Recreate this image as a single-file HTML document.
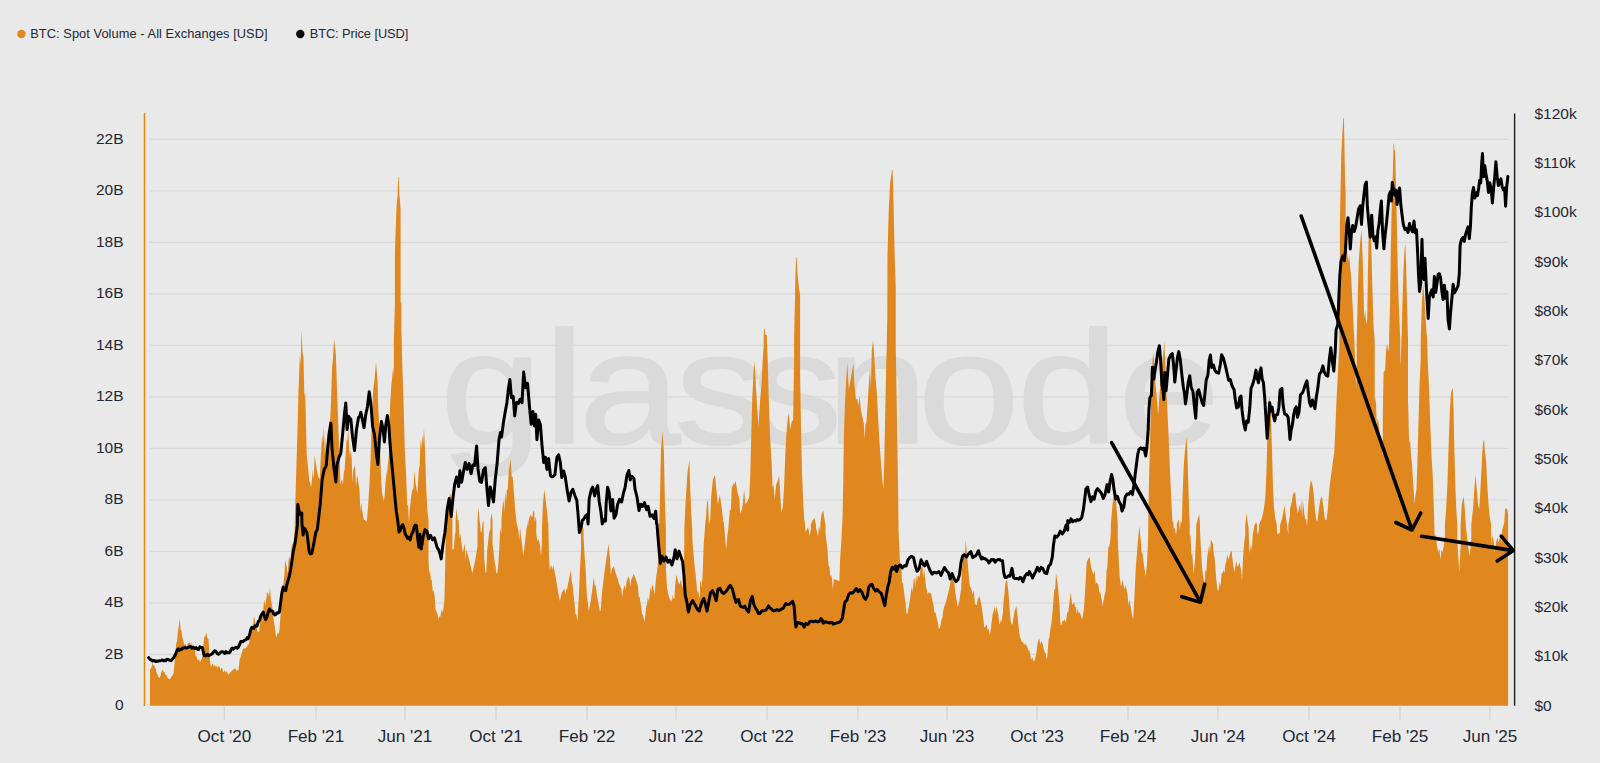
<!DOCTYPE html>
<html><head><meta charset="utf-8"><title>BTC Spot Volume</title>
<style>html,body{margin:0;padding:0;background:#e9e9e9}body{width:1600px;height:763px;position:relative;overflow:hidden}</style></head>
<body>
<svg width="1600" height="763" viewBox="0 0 1600 763" style="position:absolute;left:0;top:0;font-family:'Liberation Sans',sans-serif">
<text transform="scale(1.14,1)" x="386.4 477.2 507.9 592.1 658.8 725.0 805.3 892.1 981.1" y="443.5" font-size="160" fill="#dadada" stroke="#dadada" stroke-width="2">glassnode</text>
<line x1="150" x2="1508" y1="654.3" y2="654.3" stroke="#d9d9d9" stroke-width="1.2"/>
<line x1="150" x2="1508" y1="602.8" y2="602.8" stroke="#d9d9d9" stroke-width="1.2"/>
<line x1="150" x2="1508" y1="551.3" y2="551.3" stroke="#d9d9d9" stroke-width="1.2"/>
<line x1="150" x2="1508" y1="499.8" y2="499.8" stroke="#d9d9d9" stroke-width="1.2"/>
<line x1="150" x2="1508" y1="448.3" y2="448.3" stroke="#d9d9d9" stroke-width="1.2"/>
<line x1="150" x2="1508" y1="396.8" y2="396.8" stroke="#d9d9d9" stroke-width="1.2"/>
<line x1="150" x2="1508" y1="345.3" y2="345.3" stroke="#d9d9d9" stroke-width="1.2"/>
<line x1="150" x2="1508" y1="293.8" y2="293.8" stroke="#d9d9d9" stroke-width="1.2"/>
<line x1="150" x2="1508" y1="242.3" y2="242.3" stroke="#d9d9d9" stroke-width="1.2"/>
<line x1="150" x2="1508" y1="190.8" y2="190.8" stroke="#d9d9d9" stroke-width="1.2"/>
<line x1="150" x2="1508" y1="139.3" y2="139.3" stroke="#d9d9d9" stroke-width="1.2"/>
<path d="M150 705.8L150 669.4L150.8 668.7L151.6 666.7L152.5 663.2L153.3 665.3L154.1 665.7L154.9 666.9L155.9 669.5L156.8 673.8L157.7 674.8L158.7 677.4L159.5 678L160.4 675.9L161.2 672.6L162.1 671L162.9 669.4L163.7 672L164.5 671.9L165.3 675.1L166.1 674.4L167.1 676.8L168 678.5L168.9 678.7L169.9 679.4L170.8 677.8L171.7 676.2L172.7 675.2L173.6 673.1L174.4 664L175.3 656.1L176.1 644.5L177 640.7L178 631.7L178.9 624.9L179.8 618.4L180.7 629.9L181.5 630.8L182.3 637L183.2 639.8L184 644.2L184.8 644.5L185.8 644.2L186.7 648.7L187.6 643.6L188.6 643.3L189.4 642.9L190.2 642.6L191 647.9L191.8 642L192.8 649.8L193.8 647L194.8 649.5L195.6 656.6L196.4 656.1L197.3 659.4L198.1 660.5L198.9 658.6L199.8 662L200.6 661.3L201.4 659.6L202.3 657L203.2 647L204.2 637L205.2 636.5L206.2 632.5L207.4 638L208.5 639.5L209.3 652.2L210.2 663.2L211.1 667L212 663.7L212.9 663.9L213.8 667.1L214.7 664.4L215.5 666.8L216.4 665.3L217.2 668.8L218 666.1L218.9 666.5L219.7 666.9L220.5 670.8L221.3 667.7L222.2 668.2L223 671.4L223.8 672.5L224.7 669.8L225.5 672.8L226.3 671.5L227.2 671.5L228 674.5L228.8 674.5L229.6 673.1L230.5 672.3L231.3 671.5L232.1 670.6L233 669.8L233.8 669.5L234.6 668.2L235.6 668.8L236.5 671.1L237.4 670L238.4 670.6L239.6 659.4L240.5 657.6L241.5 653.8L242.4 651.1L243.3 648.2L244.3 648.5L245.2 648.8L246.1 647.3L247.1 647L248 643.9L248.9 644.4L249.9 638.5L250.8 634.5L251.6 629.9L252.4 626.3L253.2 625.4L254 615.9L254.9 620.2L255.8 624.6L256.6 627.1L257.4 631.4L258.3 632.1L259.2 631.6L260.1 622.1L261.1 622.3L262 612.1L262.8 616.2L263.7 603.8L264.5 599.7L265.3 606L266.2 600L267 592.2L268 592.9L269 596.8L270 586.7L271 601.2L272 604.7L272.9 612.1L273.8 621.1L274.8 627.1L275.7 634.5L276.6 637.8L277.6 632.7L278.5 633.8L279.4 630.8L280.4 616.9L281.4 602.2L282.4 593L283.4 583.9L284.4 574.8L285.2 559.8L286 563.6L286.9 567.3L287.7 574.4L288.6 559.8L289.4 556.1L290.2 562.6L291.1 551.8L291.9 544.9L292.7 544.2L293.6 541.7L294.4 532.5L295.2 528.3L296 524.2L296.9 520L297.6 520L298.4 520L299.1 529.3L299.9 533.2L300.7 524.4L301.4 520L302.2 520L302.9 534.7L303.7 524.4L304.5 532.4L305.2 520L306 520L306.7 534.7L307.5 524L308.2 520L309 520L309.8 520L310.5 520L311.3 520L312 534L312.8 520L313.6 520L314.3 532.1L315.1 520L315.8 523.5L316.6 520L317.4 535.2L318.1 520.4L318.9 535.5L319.6 522.4L320.4 520.7L321.1 520L321.9 520L322.7 520L323.4 520L324.2 529.9L324.9 533.7L325.7 520L326.5 520L327.2 534.5L328 520L328.7 520L329.5 523.4L330.2 520.6L331 520L331.8 520L332.5 520L333.3 520L334 520L334.8 521.7L335.6 532.7L336.3 525.3L337.1 520.3L337.8 524.7L338.6 520L339.3 525.4L340.1 520L340.9 534.2L341.6 520L342.4 526.9L343.1 532.9L343.9 531.8L344.7 523.6L345.4 520L346.2 533.7L346.9 520L347.7 532.7L348.4 520L349.2 528.2L350 533.3L350.7 528.3L351.5 533.9L352.2 535.8L353 523.6L353.8 520L354.5 521.8L355.3 520L356 533.2L356.8 520L357.5 520L358.3 520L359.1 526.7L359.8 534.9L360.6 534.9L361.3 523.4L362.1 535.1L362.9 520L364.1 523L365.3 520L366.1 526.3L366.9 520L367.6 527.7L368.4 532.6L369.1 520L369.9 520L370.6 525.5L371.4 534.1L372.1 520L372.9 520L373.6 527.3L374.4 520L375.1 520L375.9 527.7L376.6 520L377.4 523.2L378.2 531.8L378.9 520L379.7 522.6L380.4 525.5L381.2 522.7L381.9 523.2L382.7 520L383.4 520L384.2 536.1L384.9 526.4L385.7 520L386.4 520L387.2 520L387.9 523.3L388.7 520L389.4 523.5L390.2 520.6L391 533.2L391.7 520L392.5 530.6L393.2 522.4L394 520L394.7 532.4L395.5 520L396.2 529.6L397 520L397.7 523.8L398.5 520L399.2 520L400 520L400.7 520L401.5 520L402.3 520L403 520L403.8 525.2L404.5 520L405.3 527L406 520L406.8 520L407.5 520L408.3 527.1L409 530.4L409.8 531.3L410.5 520L411.3 530.9L412 520L412.8 528.2L413.6 520L414.3 529.1L415.1 533.1L415.8 520L416.6 521.7L417.3 520L418.1 532L418.8 530.7L419.6 520L420.3 526.9L421.1 520L421.8 531.4L422.6 532.8L423.3 536.5L424.1 520.9L424.8 526.7L425.6 527L426.4 520L426.4 705.8ZM294.8 705.8L294.8 520L296 479.4L297.3 437.1L298.5 392.3L299.8 354.9L300.6 365.3L301.5 330L302.5 352.3L303.5 357.4L304.4 396.9L305.2 392.3L306.7 454.5L307.6 463.2L308.5 471.9L309.3 481.4L310.1 481.9L311 486.9L311.8 482.5L312.7 469.4L313.7 479.6L314.7 455.7L315.7 462.6L316.7 469.4L317.6 473.2L318.4 476.9L319.7 479.4L320.9 454.5L322.2 434.6L323 444.2L323.9 425.9L324.9 455.3L325.9 437.1L326.7 450.2L327.6 432.1L328.4 429.6L329.2 421.3L330.1 420.8L330.9 404.7L332.1 367.4L333.1 357L334.1 338.7L335 346.8L335.9 354.9L337.1 392.3L338.4 429.6L339.6 459.5L340.4 484.5L341.3 480.7L342.1 479.4L342.9 484.9L343.8 472.8L344.6 469.4L345.6 454.5L346.6 439.6L347.4 440.6L348.3 429.6L349.1 447.9L350 458L350.8 449.5L351.6 456.2L352.5 483.1L353.3 469.4L354.2 467.6L355 465.7L356 487.6L357 474.4L357.9 479.4L358.7 484.4L359.5 489.4L360.4 511.7L361.2 502.6L362 509.3L362.9 514.8L363.8 520L364.6 520L365.4 520L366.2 521.7L367 520L368.2 504.3L369.5 484.4L370.7 454.5L372 417.2L373.2 389.8L374.5 379.8L376 361.9L377.5 379.8L378.4 411L379.4 429.6L380.7 469.4L381.9 491.9L382.9 496.8L383.9 501.8L384.8 493.6L385.7 479.4L386.5 474.4L387.4 469.4L388.9 454.5L390.1 404.7L391.4 384.8L392.3 376.1L393.1 367.4L394 377.3L394.9 330L395.7 330L396.5 330L397.3 330L398.1 330L398.9 330L399.7 330L400.5 353.4L401.4 330L402.4 367.4L403.6 404.7L404.8 449.5L406.3 479.4L407.2 506.1L408.1 504.3L408.9 522.6L409.8 509.3L410.8 500.6L411.8 491.9L412.6 489.5L413.5 487.9L414.3 470.7L415.8 484.4L417.3 494.3L418.8 469.4L419.7 465.1L420.5 439.6L421.4 449L422.3 434.6L423.1 444.8L424 428.4L425 449.5L426.3 489.4L427.3 509.3L428.5 520L428.5 705.8ZM447.2 705.8L447.2 520L447.9 504.3L450.4 493.1L451.7 504.3L452.4 520L452.4 705.8ZM455.6 705.8L455.6 520L456.6 508L457.6 520L457.6 705.8ZM477.5 705.8L477.5 520L478.5 506.8L479.5 520L479.5 705.8ZM490.5 705.8L490.5 520L491.5 513L492.5 520L492.5 705.8ZM501.5 705.8L501.5 520L502.7 504.3L503.5 500.2L504.4 511.9L505.2 491.9L506 501.9L506.8 490.2L507.7 489.4L508.9 469.4L509.8 464.1L510.7 458.7L511.7 476.8L512.7 476.9L513.9 491.9L515.1 509.3L516.4 520L516.4 705.8ZM528.8 705.8L528.8 520L530.1 515.5L531 514.3L532 524.1L532.9 511.8L533.8 510.5L534.7 524.2L535.5 516.8L536.3 520L536.3 705.8ZM393.9 705.8L393.9 340L394.9 302.4L394.9 252.1L396.4 209.8L396.9 202.3L397.6 194.8L398.1 176.9L398.6 176.9L399.4 194.8L400.1 202.3L400.6 209.8L400.6 302.4L401.4 302.4L401.4 340L401.4 705.8ZM426.2 705.8L426.2 520L427.5 544.9L428.3 553.2L429.1 574.3L430 569.8L430.9 580.5L431.8 579.8L432.8 592.6L433.7 589.7L434.6 595.6L435.6 609.6L436.5 611.7L437.4 613.4L438.4 619.5L439.3 616.4L440.2 617.1L441.2 612.1L442 609L442.8 613.3L443.6 607.5L444.4 599.7L445.4 557.4L446.1 520L447.1 528.5L448 520L448.9 520L449.9 520L450.9 534.9L451.9 549.9L452.9 549.5L453.9 548.7L454.9 534.9L455.7 530L456.5 525L457.4 520L458.6 520L459.4 538.3L460.3 533.3L461.1 539.9L462 546.9L462.8 552.4L463.8 548.1L464.8 543.7L465.7 559.8L466.5 549.5L467.3 552.4L468.1 555.7L469 559L469.8 562.3L470.6 566.1L471.5 569.8L472.3 573.5L473.3 569L474.3 564.4L475.3 559.8L476.1 554.9L476.9 549.9L477.8 544.9L478.8 532.5L479.8 520L480.7 531.2L481.6 532.8L482.6 523L483.5 520L484.2 557.4L485.5 573.5L486.4 571.8L487.2 549.9L488.2 541.2L489.2 532.5L490.1 530L491 527.5L491.8 548.7L492.7 544.9L493.7 553.6L494.7 562.3L495.5 566.1L496.4 573.5L497.2 573.5L498.2 565.8L499.2 549.9L500.2 527.5L501.2 534.3L502.2 520L502.9 520L503.7 529.5L504.5 522L505.2 520L506 520L506.7 520L507.5 520.2L508.3 529.9L509 520L509.8 520L510.5 526.9L511.3 530.8L512.1 522.5L512.8 520.1L513.6 520L514.3 536.2L515.1 534.5L515.9 520L516.7 523.6L517.5 526.6L518.4 530L519.2 540.4L520.1 527.5L521.1 537L522.1 544.9L523.3 556.1L524.2 549.1L525 542L525.8 534.9L526.7 530L527.5 525L528.3 520L529.1 530.5L529.9 520L530.7 535.6L531.4 536.1L532.2 520L533 520.2L533.8 520L534.5 520L535.5 527.5L536.5 534.9L537.4 541.5L538.3 538.7L539.1 541.8L540 544.9L541 556.2L542 542.4L543 537.1L544 530L544.5 520L545.4 529.6L546.4 531.3L547.3 533.3L548.2 520L549 557.4L549.9 570.1L550.7 566.1L551.6 565.7L552.4 570.1L553.2 564.8L554 569L554.9 573.1L555.7 577.3L556.5 582.3L557.4 587.2L558.2 592.2L559.1 597.2L559.9 600.9L560.9 596.6L561.9 592.2L562.8 591L563.6 589.7L564.4 588.5L565.3 595.3L566.1 589.3L566.9 589.7L567.9 584.7L568.9 579.8L569.9 574.8L570.9 569.8L571.8 582.2L572.6 584.7L573.5 593.5L574.4 602.2L575.4 614.4L576.4 614.6L577.4 622.1L578.9 594.7L579.7 576L580.6 557.4L581.9 532.5L583.1 530L584.3 549.9L585.6 569.8L586.8 594.7L587.8 602.8L588.8 610.9L589.7 606.5L590.6 602.2L591.4 596L592.3 589.7L593.8 577.3L594.7 585.8L595.5 584.7L596.4 591L597.3 597.2L598.1 601.8L599 606.3L599.8 610.9L600.8 610.5L601.8 594.7L602.8 586L603.8 577.3L604.6 571L605.5 564.8L606.4 558.6L607.3 552.4L608.5 543.7L610 559.8L610.9 575.6L611.7 569.8L612.7 567.9L613.7 566.1L614.7 569.8L615.7 573.5L616.8 576.6L618 579.8L618.8 583.2L619.6 584.7L620.4 587.2L621.3 588.5L622.1 597.6L622.9 591L623.8 587.9L624.7 584.7L625.7 589.6L626.7 581L627.7 578.5L628.7 576L629.5 579.7L630.3 587.1L631.2 579.8L632 577.7L632.8 576.6L633.6 573.5L634.6 576L635.6 578.5L636.8 582.3L637.9 586L638.7 597.3L639.5 596.8L640.4 602.2L641.2 606.3L642 614.6L642.9 614.6L643.7 618.4L644.6 622.1L646.1 607.2L647 604L647.8 597.2L648.7 600.9L649.5 596.4L650.3 587.2L651.2 592L652 586.1L652.8 584.7L653.7 589.7L654.6 594.7L656.1 577.3L656.9 572.3L657.8 564.8L659 552.4L660.3 534.9L661.5 520L662.5 520L663.4 520L664.3 530L665.3 520L666 569.8L666.9 586.8L667.8 592.2L668.6 595.5L669.4 598L670.2 600.9L671.1 598.9L671.9 602.3L672.7 594.7L673.6 599.4L674.4 598.1L675.2 584.7L676.5 574.8L677.3 578.1L678.1 581.4L679 584.7L680 582.3L681 579.8L681.8 584.5L682.7 588.5L683.9 569.8L684.7 520L685.5 523L686.4 520.9L687.2 520L688.1 520L688.9 535.8L689.7 520L690.6 530L691.4 520L692.7 544.9L693.9 557.4L694.7 567.2L695.6 574L696.4 582.3L697.2 592.5L698.1 590.6L698.9 594.7L699.7 597.2L700.5 599.7L701.4 602.2L701.4 705.8ZM526.2 705.8L526.2 530L527.5 524.3L528.3 528.8L529.1 534.7L530 515.5L530.8 516L531.6 517L532.5 516.8L533.3 519.8L534.2 510.6L534.9 530L534.9 705.8ZM541.9 705.8L541.9 530L542.9 504.3L544.4 489.4L545.9 501.9L547.4 514.3L548.1 530L548.1 705.8ZM581 705.8L581 530L582.3 525.5L583.5 530L583.5 705.8ZM658.9 705.8L658.9 530L659.9 501.9L660.9 452.1L662.4 430.9L663.9 452.1L664.9 501.9L665.9 530L665.9 705.8ZM684.3 705.8L684.3 530L685.6 501.9L686.5 488.2L687.3 474.5L688.3 467L689.3 459.5L690.3 489.4L691.3 514.3L692.3 530L692.3 705.8ZM763.7 705.8L763.7 340L764 328.8L764.7 328.8L765.5 335.5L766.7 336.3L766.7 340L766.7 705.8ZM794.1 705.8L794.1 340L795.1 291.9L795.6 269.5L796.1 257.1L796.6 257.1L797.6 274.5L799.1 289.4L800.1 294.4L800.1 340L800.1 705.8ZM886.8 705.8L886.8 340L887.3 318.1L887.5 254.6L888.7 212.3L890 184.9L891.2 174.9L892 169.9L892.5 169.9L893.2 187.4L894 224.7L894.7 257.1L895.7 285.7L895.7 340L895.7 705.8ZM700 705.8L700 582.3L700.8 580.6L701.7 587.9L702.5 577.3L703.7 544.9L704.6 532.5L705.5 520L707 520L708.5 527.5L710 520L710.7 520L711.5 520L712.2 522.4L713 520L713.8 520L714.5 520L715.3 529.9L716 520L716.8 525.4L717.6 522.1L718.3 522.8L719.1 522.4L719.9 520L720.6 532L721.4 520.6L722.1 520L722.9 535.6L723.7 520L724.9 534.9L726.1 549.9L727.4 534.9L728.4 527.5L729.4 520L730.1 520L730.9 527.5L731.6 535.5L732.4 520L733.1 520L733.9 525.7L734.6 520L735.4 530.5L736.2 523.7L736.9 531.9L737.7 520L738.4 534.6L739.2 526.9L739.9 524.5L740.7 520L741.4 522.8L742.2 525.3L742.9 520L743.7 536.4L744.4 535L745.2 520L745.9 528L746.7 524.3L747.4 526.1L748.2 520L748.9 520L749.7 520L750.4 524.8L751.2 520L751.9 532.1L752.7 536.4L753.4 533.5L754.2 522.3L755 533.9L755.7 523.1L756.5 535.3L757.2 529.6L758 523L758.7 520L759.5 520L760.2 521.3L761 530.2L761.7 524.6L762.5 530.2L763.2 520L764 520L764.7 520L765.5 521.1L766.2 520L767 532.1L767.7 533.6L768.5 534.1L769.2 520L770 520.3L770.7 520L771.5 534.6L772.2 523.1L773 520L773.8 522.7L774.5 529.9L775.3 528.7L776 528.6L776.8 531.9L777.5 520L778.3 520L779 531.9L779.8 532.6L780.5 534.6L781.3 520L782 528.6L782.8 529L783.5 536.2L784.3 523L785 524.2L785.8 520L786.5 521.6L787.3 520L788 520.3L788.8 520L789.5 520L790.3 531.7L791 534.5L791.8 520L792.5 522.1L793.3 528.4L794.1 522L794.8 522.3L795.6 520L796.3 520L797.1 529.6L797.8 520L798.6 533.8L799.3 520L800.1 527L800.8 520L801.6 526.6L802.3 520L803.1 520L803.8 524L804.6 520L805.6 532.1L806.6 530L807.4 528.7L808.3 527.5L809.6 536.2L810.6 530.6L811.6 525L812.4 522.5L813.3 520L814.1 522.5L815 525L815.8 527.5L817 531.2L818 537L819 526.2L819.9 529.3L820.8 532.5L821.6 526.2L822.5 520L823.5 527.1L824.5 520L825.7 534.9L826.6 542.4L827.5 549.9L828.5 565.6L829.5 567.3L830.3 576.3L831.1 575L832 578.5L832.9 589.9L833.8 579.1L834.8 579.4L835.7 579.8L836.6 580.1L837.6 580.4L838.5 580.7L839.4 581L840.2 557.4L841.4 539.9L842.4 520L843.2 520L843.9 530.7L844.7 531.3L845.4 529.1L846.2 520L846.9 520L847.7 528.7L848.4 535.9L849.2 525.1L849.9 520L850.7 529.9L851.4 520L852.2 524.5L852.9 528.9L853.7 522.1L854.4 524.9L855.2 524.8L855.9 521.5L856.7 534L857.4 520L858.2 520L858.9 520L859.7 531.9L860.4 529.2L861.2 520L861.9 525.2L862.7 523.7L863.4 526.4L864.2 520L864.9 525.9L865.7 520L866.4 529.3L867.2 524.8L867.9 520L868.7 532.9L869.4 521.1L870.2 520L870.9 521L871.7 527.4L872.4 520L873.2 523.8L873.9 520L874.7 520L875.4 525.6L876.2 531.3L876.9 520L877.7 520L878.4 520L879.2 532.4L879.9 520L880.7 520L881.4 533.1L882.2 520L883 520L883.7 534.6L884.5 532.8L885.2 520L886 536.1L886.7 520L887.5 533.1L888.2 520L889 520L889.7 527.6L890.5 532.1L891.2 526.5L892 520L892.7 525.4L893.5 520L894.2 520L895 527.4L895.7 525.1L896.5 529.6L897.2 520L898 520L899.2 544.9L900.2 567.4L901.2 564.8L902.1 583.6L902.9 582.3L903.8 589.7L904.7 597.2L905.5 603L906.3 612.5L907.2 614.6L908.2 609.6L909.2 604.7L910.2 597.7L911.2 589.7L912 586.4L912.8 593.2L913.6 579.8L914.5 578.1L915.3 588.1L916.1 574.8L917 581.3L917.8 575.6L918.6 576L919.5 577.2L920.4 569.8L921.4 567.3L922.4 564.8L923.2 578.6L924.1 568.6L925.1 577.9L926.1 587.2L926.9 589.9L927.8 594.7L928.6 592.2L929.4 592.6L930.2 593L931.1 593.5L931.9 597.8L932.8 602.2L933.6 605.5L934.5 612.7L935.3 612.1L936.1 615.5L937 618.8L937.8 622.1L938.8 629L939.8 628.3L940.7 624L941.5 619.6L942.4 618L943.2 611.3L944 607.2L944.9 604.7L945.7 603.2L946.5 599.7L947.3 596.4L948.2 593L949 589.7L950 584.7L951 579.8L951.9 578.5L952.7 577.3L953.6 581L954.5 584.7L955.5 593.8L956.5 599.7L957.5 606.9L958.5 604.7L959.3 601.5L960.2 594.7L961.1 589.3L962 569.8L962.9 559.8L963.9 549.9L964.8 559.3L965.7 539.9L967.2 557.4L968.1 567.3L968.9 577.3L969.9 586.8L970.9 587.2L971.8 591L972.7 594.7L973.9 589.7L974.9 603.9L975.9 604.7L976.8 605L977.6 599.7L978.5 597.8L979.4 595.9L980.4 600.3L981.4 604.7L982.4 612.1L983.4 619.6L984.2 627L985.1 627.1L986 625.8L986.9 624.6L987.8 631.1L988.8 628.3L989.8 635.8L990.8 629.6L991.7 622.1L992.6 614.6L993.6 611.3L994.6 605.9L995.4 612.7L996.3 605.9L997.3 611.1L998.3 614.6L999.2 623.7L1000 624.6L1000 705.8ZM705.5 705.8L705.5 525L707 501.8L708 500.6L709 525L709 705.8ZM710 705.8L710 525L711.2 496.9L712.1 488.1L712.9 479.4L713.9 477.2L714.9 474.9L716.4 489.4L717.9 504.3L718.9 499.3L719.9 494.4L720.9 502.1L721.9 509.3L722.8 517.1L723.7 525L723.7 705.8ZM728.6 705.8L728.6 525L729.9 509.3L730.9 510.3L731.9 484.4L732.7 487.2L733.6 483.2L734.6 483.9L735.6 480.7L736.5 486.3L737.4 491.9L738.3 495.6L739.3 499.3L740.2 513.7L741.1 511.8L742 509L742.8 504.3L744.1 489.4L745.3 504.3L746.3 503.1L747.3 501.8L748.3 499.3L749.3 496.9L750.3 474.4L751.3 434.6L752.3 397.3L753.5 372.4L754.5 361.1L755.8 384.8L757.3 409.7L758.5 427.1L759.8 404.7L760.6 394.8L761.5 384.8L762.7 359.9L764.2 337.5L765.2 335L766.7 335L767.7 359.9L768.7 397.3L770.2 439.6L771.7 464.5L772.6 487.4L773.5 484.4L774.7 499.3L776.2 484.4L777.7 480.7L779.2 475.7L780.2 494.4L781.4 513L782.9 506.8L784.2 484.4L785.4 452L786.7 429.6L787.9 417.2L788.9 413.4L790.1 429.6L791.6 422.2L793.1 419.7L794.1 359.9L795.1 335L796 336.5L796.9 335L797.8 335L798.7 365L799.6 335L800.3 384.8L801.1 434.6L802.1 474.4L803.3 504.3L804.6 525L804.6 705.8ZM810.8 705.8L810.8 525L812.5 520.5L814.5 518L816 525L816 705.8ZM820.3 705.8L820.3 525L821.5 514.3L823.3 510.5L824.5 519.3L825.5 525L825.5 705.8ZM842.4 705.8L842.4 525L843.2 484.4L843.9 434.6L844.9 404.7L846.2 379.8L847.4 362.4L848.7 389.8L850.1 382.3L851 377.3L851.9 372.4L853.4 362.9L854.4 384.8L855.9 399.7L857.4 398.5L858.4 406L859.6 396L860.9 409.7L862.4 417.2L863.8 423.4L864.7 438.7L865.5 423.4L866.3 423.4L867.6 404.7L868.8 384.8L870.1 367.4L870.9 388.3L871.8 349.9L873.1 340.5L874.3 357.4L875.5 377.3L876.8 392.3L878 414.7L879.3 439.6L880.8 459.5L882.3 479.4L883.3 489.4L884.3 459.5L885.3 409.7L886.3 359.9L887.3 335L888.1 348L888.9 335L889.7 345.3L890.5 335L891.4 361.5L892.2 340.8L893 341.2L893.8 335L894.6 353.7L895.5 335L896.2 372.4L897.2 434.6L898 484.4L898.5 525L898.5 705.8ZM1000 705.8L1000 619.6L1001 623.1L1002 618.4L1002.9 612.5L1003.7 599.7L1004.6 592.2L1005.5 582.3L1007 579.8L1007.8 587.2L1008.7 594.7L1009.6 609.3L1010.5 619.6L1011.5 624.2L1012.5 624.6L1013.4 618.6L1014.4 612.1L1015.4 609L1016.4 605.9L1017.9 619.6L1018.9 629.4L1019.9 637L1020.8 638.7L1021.6 641.9L1022.4 642L1023.2 642.4L1024.1 645.4L1024.9 643.3L1025.7 644.5L1026.6 645.7L1027.4 647L1028.2 650.5L1029.1 650.3L1029.9 652L1030.7 658.1L1031.5 659.6L1032.4 657L1033.2 660.4L1034.1 661.9L1035.1 658.8L1036.1 654.5L1037 648.2L1037.8 642L1039.3 638.3L1040.2 644.9L1041.1 640.8L1042 642.6L1042.8 644.5L1043.8 649.5L1044.8 652L1045.7 653.6L1046.5 659.3L1047.3 657L1048.6 639.5L1049.4 637.8L1050.3 629.6L1051.3 624.1L1052.3 614.6L1053.3 602.2L1054.3 589.7L1055.2 589L1056 573.5L1056.9 579.1L1057.8 584.7L1059.3 602.2L1060.5 624.6L1061.4 625.6L1062.3 620.8L1063.1 621.8L1063.9 620L1064.7 619.6L1065.6 622.4L1066.4 619.2L1067.2 612.1L1068.2 612.8L1069.2 604.7L1070.7 592.2L1072.2 604.7L1073.2 604L1074.2 602.2L1075.1 606.7L1075.9 607.2L1076.8 614.1L1077.7 608.4L1078.7 613.7L1079.7 612.1L1080.5 614.6L1081.3 617.1L1082.2 619.6L1083 614.6L1083.9 609.6L1085.2 589.7L1086.7 562.3L1087.5 560.5L1088.4 558.6L1089.6 556.9L1091.1 567.3L1092.6 572.3L1093.6 574.4L1094.6 569.8L1095.6 584L1096.6 582.3L1097.5 583.5L1098.4 584.7L1099.4 592.8L1100.3 592.2L1101.5 599.1L1102.6 605.9L1103.6 600.3L1104.6 594.7L1105.6 591.7L1106.6 569.8L1107.4 566.9L1108.3 547.4L1109.2 546.6L1110.1 542.4L1111.6 520L1112.3 520L1113.1 520L1113.9 520L1114.7 520.7L1115.5 523.3L1116.2 526.4L1117 520L1118 544.9L1119.5 574.8L1121 587.2L1122.5 579.8L1124 587.2L1124.9 589.3L1125.7 584.7L1126.6 589.7L1127.5 594.7L1128.5 605.4L1129.5 599.7L1130.5 605.9L1131.5 612.1L1132.3 615.9L1133.2 619.6L1134.5 594.7L1135.7 569.8L1137 552.4L1138.2 537.4L1139.4 526.2L1140.7 539.9L1141.6 552.4L1142.4 552.4L1143.9 564.8L1144.8 571L1145.7 577.3L1146.9 564.8L1147.9 544.9L1148.7 520L1149.4 520L1150.2 520L1150.9 520L1151.7 520.7L1152.5 520L1153.2 520L1154 524.1L1154.8 533.2L1155.5 535.3L1156.3 520L1157 531.6L1157.8 532.5L1158.6 520L1159.3 521.5L1160.1 520L1160.9 535.6L1161.6 520L1162.4 520L1163.1 520L1163.9 520L1164.7 520.9L1165.4 520L1166.2 528.6L1167 520L1167.7 532.7L1168.5 531.8L1169.2 520L1170 529.1L1170.8 520L1171.5 520L1172.3 524.2L1173.1 520L1173.9 529.6L1174.8 527.5L1176 534.9L1177.3 525L1178.8 520L1179.8 530L1180.8 520L1181.6 523.4L1182.4 522.3L1183.2 520L1184 520L1184.8 524L1185.6 527.4L1186.4 520L1187.2 525L1187.9 520L1188.7 520L1189.6 536.5L1190.5 534.9L1191.4 555.6L1192.2 552.4L1193.7 574.8L1195 559.8L1196.2 534.9L1197.5 523.7L1198.7 520L1199.7 525L1200.7 544.9L1202.2 569.8L1203.7 579.8L1204.6 583.7L1205.4 569.8L1206.3 572.1L1207.2 557.4L1208.2 551.1L1209.2 544.9L1210 553.4L1210.9 539.4L1211.9 541.5L1212.9 543.7L1213.8 554.5L1214.6 557.4L1216.1 577.3L1217 586.4L1217.9 591L1218.8 589.6L1219.6 582.3L1220.6 586L1221.6 573.5L1222.6 573L1223.6 569.8L1224.5 573.2L1225.3 564.8L1226.2 562L1227.1 554.9L1228.6 559.8L1229.5 556.3L1230.3 552.4L1231.6 551.1L1233.1 564.8L1234.6 572.3L1236.1 561.1L1236.9 564.2L1237.8 567.3L1238.7 564.8L1239.5 562.3L1241 569.8L1242 581L1243 557.4L1244.5 539.9L1246 530L1247.3 520L1248.5 527.5L1249.5 553.6L1251 544.9L1251.9 550.6L1252.7 534.9L1253.6 530L1254.5 525L1256 522.5L1256.8 528.7L1257.7 534.9L1259 530L1260.2 520L1261 528.2L1261.8 523.2L1262.6 520.1L1263.3 520L1264.1 520L1264.9 520L1265.7 520L1266.5 520L1267.3 524.1L1268.1 520.5L1268.8 520L1269.6 520L1270.4 523.1L1271.2 520L1272 520L1272.8 520L1273.5 533.1L1274.3 520L1275.1 520L1275.9 520L1276.8 530.4L1277.6 534.9L1278.5 533.7L1279.4 532.5L1280.4 534.6L1281.4 525L1282.4 522.5L1283.4 520L1284.4 533.9L1285.4 520.7L1286.4 520L1287.6 530L1288.8 538.7L1289.6 520L1289.6 705.8ZM1110.8 705.8L1110.8 525L1112.1 509.3L1113.3 496.9L1114.5 476.9L1115.8 496.9L1117 514.3L1117.8 525L1117.8 705.8ZM1148.2 705.8L1148.2 525L1148.9 484.4L1149.9 447.1L1150.9 409.7L1151.9 372.4L1153.1 351.2L1154.4 367.4L1155.6 384.8L1156.9 399.7L1158.1 414.7L1159.4 397.3L1160.6 379.8L1161.9 367.4L1163.1 354.9L1164.3 341.2L1165.3 364.9L1166.3 389.8L1167.3 409.7L1168.3 429.6L1169.3 454.5L1170.6 484.4L1171.8 509.3L1172.6 525L1172.6 705.8ZM1176.8 705.8L1176.8 525L1178.3 519.3L1179.3 525L1179.3 705.8ZM1181.8 705.8L1181.8 525L1182.5 496.9L1183.8 464.5L1185.3 447.1L1186.8 437.6L1187.7 464.5L1188.7 496.9L1189.7 525L1189.7 705.8ZM1196.2 705.8L1196.2 525L1198 518L1199.2 514.3L1200 525L1200 705.8ZM1245.3 705.8L1245.3 525L1246.5 513L1248 525L1248 705.8ZM1255.2 705.8L1255.2 525L1256 521.8L1257 525L1257 705.8ZM1259 705.8L1259 525L1259.8 523.1L1260.6 521.2L1261.5 519.3L1262.5 515.5L1263.4 511.8L1264.3 505.6L1265.2 499.3L1266.4 474.4L1267.4 434.6L1268.4 404.7L1269.4 396L1270.7 409.7L1271.9 447.1L1272.9 484.4L1273.9 506.8L1275.4 519.3L1276.9 525L1276.9 705.8ZM1280.1 705.8L1280.1 525L1281 522.1L1281.9 519.3L1283.4 511.8L1284.6 505.6L1285.9 516.8L1286.9 525L1286.9 705.8ZM1288.3 705.8L1288.3 525L1289.2 519.6L1290.1 514.3L1291 519.3L1291.8 506.8L1293.3 496.9L1294.2 499.8L1295.1 491.4L1296.3 504.3L1297.8 514.3L1298.8 509.3L1300 506.8L1300 705.8ZM1290 705.8L1290 520L1290.8 520L1291.5 531.5L1292.3 527.4L1293 520L1293.8 520.7L1294.5 523.2L1295.3 520L1296 534.1L1296.8 520L1297.5 520L1298.3 524.7L1299.1 520L1299.8 527L1300.6 527.3L1301.3 520L1302.1 520L1302.8 520L1303.6 524.9L1304.3 529.4L1305.1 523.3L1305.8 525.4L1306.6 536.2L1307.4 520L1308.1 520L1308.9 520L1309.6 520L1310.4 520L1311.1 520L1311.9 531.3L1312.6 520L1313.4 529.6L1314.1 520L1314.9 520L1316.1 530L1317.4 520L1318.2 530.8L1319.1 525.7L1319.9 520L1320.7 523.2L1321.5 520L1322.4 521.4L1323.2 520L1324 529.7L1324.9 520L1326.1 531.2L1327.4 520L1328.1 528.9L1328.9 520L1329.6 521.9L1330.4 534.9L1331.1 521.9L1331.9 520L1332.6 521.6L1333.4 524.2L1334.1 529.3L1334.9 529.6L1335.6 528.6L1336.4 520L1337.1 526.8L1337.9 527.3L1338.6 520L1339.4 520L1340.1 520L1340.9 520L1341.6 536.6L1342.4 520L1343.1 533.9L1343.9 522.9L1344.6 520L1345.4 520L1346.1 520L1346.9 533L1347.6 524L1348.4 520.3L1349.1 520L1349.9 525L1350.6 520L1351.4 534.9L1352.1 520L1352.9 520L1353.6 520L1354.4 520L1355.1 520L1355.9 532.5L1356.6 532.8L1357.4 520L1358.1 520L1358.9 526.2L1359.6 520L1360.4 520L1361.1 520L1361.9 530.1L1362.6 529.2L1363.4 520L1364.1 535.5L1364.9 520L1365.6 523.2L1366.4 534L1367.1 520L1367.9 520.4L1368.6 533.4L1369.4 529.3L1370.1 531.5L1370.9 522.4L1371.6 520L1372.4 531.5L1373.1 520L1373.9 520L1374.6 525.7L1375.4 528.4L1376.1 520L1376.9 520L1377.6 523L1378.4 520L1379.1 520L1379.9 528L1380.6 534.1L1381.4 534.6L1382.1 520L1382.9 525.5L1383.6 534.9L1384.4 520L1385.1 522.8L1385.9 527.8L1386.6 520L1387.4 525.9L1388.1 529.7L1388.9 520.3L1389.6 536.5L1390.4 522.4L1391.1 520L1391.9 524.6L1392.6 524.4L1393.4 520L1394.1 536L1394.9 520L1395.6 529.4L1396.4 520L1397.1 520L1397.9 520L1398.6 520L1399.4 520L1400.2 524.7L1400.9 520L1401.7 520L1402.4 520L1403.2 520L1403.9 532.8L1404.7 520L1405.4 530.6L1406.2 529.2L1406.9 521L1407.7 525.4L1408.4 520L1409.2 526.1L1409.9 523.9L1410.7 522.3L1411.4 534.6L1412.2 527.4L1412.9 520L1413.7 522.8L1414.4 525L1415.2 532.2L1415.9 520L1416.7 520L1417.4 535.4L1418.2 520L1418.9 523L1419.7 520L1420.4 520L1421.2 533L1421.9 534.5L1422.7 528.1L1423.4 520L1424.2 524.3L1424.9 522.8L1425.7 531.8L1426.4 526.7L1427.2 530.1L1427.9 520L1428.7 520L1429.4 532.3L1430.2 520L1430.9 520L1431.7 533.5L1432.4 520L1433.2 522.3L1433.9 520L1434.8 536.1L1435.7 534.9L1436.9 544.9L1438.2 552.4L1439.4 548.6L1440.4 559.8L1441.4 549.9L1442.4 552.4L1443.9 544.9L1444.9 534.9L1446.1 520L1446.9 520L1447.7 520L1448.5 520L1449.3 525.5L1450.1 520L1450.8 520L1451.6 531.4L1452.4 521L1453.2 520.8L1454 520L1454.8 528.3L1455.5 520L1456.3 520L1457.3 539.9L1458.3 557.4L1459.3 572.3L1460.3 552.4L1461.3 534.9L1462.3 520L1463.2 527.7L1464.1 535.5L1465 520L1466.3 530L1467.5 542.4L1468.8 551.1L1469.8 556.1L1470.8 544.9L1471.8 532.5L1473 520L1473.8 520L1474.6 520L1475.3 530.3L1476.1 520L1476.9 521.6L1477.6 522.4L1478.4 520L1479.2 533.6L1480 529L1480.7 520L1481.5 520L1482.3 520L1483 520L1483.8 532.4L1484.6 531.9L1485.3 520L1486.1 520L1486.9 532.9L1487.7 520L1488.4 524.7L1489.2 520L1490.4 527.5L1491.3 546L1492.2 534.9L1493.7 541.2L1494.7 552.4L1495.7 544.9L1497.2 537.4L1498.7 542.4L1499.5 538.8L1500.4 534.9L1501.3 542.7L1502.2 530L1503.6 525L1504.5 522.5L1505.4 520L1506.3 536.5L1507.2 532.7L1508.1 520L1508.1 705.8ZM1290 705.8L1290 509.3L1291.2 504.3L1292.1 499.9L1293 494.4L1294.5 491.4L1296 506.8L1297.5 514.3L1298.5 510.4L1299.5 504.3L1300.3 512L1301.2 499.3L1302.1 517.4L1302.9 500.6L1304.4 514.3L1305.3 519.3L1306.2 519.3L1307.1 527L1307.9 509.3L1309.4 489.4L1310.9 479.9L1312.4 484.4L1313.7 494.4L1314.9 509.3L1316.1 519.3L1317.4 521.8L1318.9 509.3L1320.4 499.3L1321.9 496.4L1323.4 506.8L1324.9 519.3L1326.4 520.5L1327.8 509.3L1329.3 489.4L1330.2 481.9L1331.1 474.4L1332 468.8L1332.8 462L1334.3 452L1335.3 429.6L1336.3 404.7L1337.3 384.8L1338.6 359.9L1339.8 335L1340.6 335L1341.3 367.8L1342.1 356.2L1342.8 361.7L1343.6 345.8L1344.4 335L1345.1 359.5L1345.9 356.5L1346.6 363.8L1347.4 353.8L1348.2 365.7L1348.9 335L1349.7 335L1350.4 343.4L1351.2 349.5L1352 341.8L1352.7 335L1353.5 335L1354.2 335L1355.2 364.9L1356.2 387.3L1357.2 364.9L1358.5 335L1359.3 368.2L1360 354L1360.8 363.8L1361.6 335L1362.4 360.1L1363.2 335L1364 346.1L1364.8 364.7L1365.6 357.8L1366.3 335L1367.1 354.3L1367.9 335L1368.7 364.5L1369.5 361L1370.3 335L1371.1 363.8L1371.8 335L1372.6 335.8L1373.4 335L1374.2 386.4L1375.1 403.5L1375.9 397.3L1376.7 425.4L1377.6 418.3L1378.4 422.2L1379.2 428L1380.1 442.1L1380.9 439.6L1381.8 448.3L1382.6 457L1382.9 409.7L1383.6 372.4L1385.1 369.9L1386.1 349.9L1387.1 343.7L1388.4 352.4L1389.6 337.5L1390.8 335L1391.7 335L1392.5 335L1393.3 335L1394.1 342.8L1395 335L1395.8 335L1396.6 351.8L1397.4 349.4L1398.2 335.7L1399.1 335L1399.6 372.4L1400.8 359.9L1401.6 335L1402.4 335L1403.2 364.3L1404 351.3L1404.9 349.3L1405.7 357.9L1406.5 335L1407 372.4L1408.3 409.7L1409.1 443.3L1410 439.6L1411 454.6L1412 464.5L1413.3 484.4L1414.5 504.3L1415.2 496.9L1416.5 489.4L1417.5 459.5L1418.5 422.2L1419.5 384.8L1420.7 359.9L1422 342.5L1422.7 335L1423.6 351.6L1424.4 335L1425.3 342.2L1426.1 335L1427 335L1427.7 359.9L1428.9 384.8L1430.2 422.2L1431.4 454.5L1432.7 474.4L1433.7 504.3L1434.4 525L1434.4 705.8ZM1444.9 705.8L1444.9 525L1446.1 509.3L1447.4 484.4L1448.6 447.1L1449.9 409.7L1451.1 392.3L1452.6 387.8L1453.6 409.7L1454.3 447.1L1455.3 484.4L1456.3 509.3L1457.3 525L1457.3 705.8ZM1460.6 705.8L1460.6 525L1461.8 504.3L1463.6 496.4L1464.8 509.3L1465.8 525L1465.8 705.8ZM1471.3 705.8L1471.3 525L1472.1 517.1L1473 509.3L1474.3 489.4L1475.5 474.4L1476.8 489.4L1478 504.3L1479.2 509.3L1480.2 494.4L1481.2 474.4L1482.2 454.5L1483.2 442.1L1484 439.6L1485 452L1486.2 462L1487.2 484.4L1488.5 504.3L1489.7 516.8L1491.2 525L1491.2 705.8ZM1504.1 705.8L1504.1 525L1505.1 509.3L1506.1 508.1L1507.1 509.3L1508.1 514.3L1508.1 525L1508.1 705.8ZM1339.3 705.8L1339.3 340L1339.8 274.5L1340.5 212.3L1341.3 174.9L1342.3 150L1343.3 150L1344.3 150L1345 187.4L1346 237.2L1347.3 254.6L1348.3 261.8L1349.3 254.6L1350.1 267.3L1351 274.5L1352.3 299.4L1353.5 324.3L1354.2 340L1354.2 705.8ZM1356.7 705.8L1356.7 340L1357.7 299.4L1358.7 262.1L1360.2 242.1L1361.5 229.7L1362.5 254.6L1363.5 289.4L1364.2 319.3L1365.2 309.4L1366.2 324.3L1367.2 319.3L1367.9 274.5L1368.9 224.7L1369.9 213.5L1370.9 232.2L1371.7 262.1L1372.7 299.4L1373.7 329.3L1374.7 340L1374.7 705.8ZM1389.1 705.8L1389.1 340L1390.1 299.4L1390.8 249.6L1391.6 212.3L1392.3 187.4L1393.3 162.5L1394.1 150L1395.1 150L1395.6 169.9L1396.6 212.3L1397.6 262.1L1398.6 299.4L1399.6 324.3L1400.3 340L1400.3 705.8ZM1401.6 705.8L1401.6 340L1402.5 299.4L1403.5 269.5L1404.5 249.6L1405.3 243.4L1406 262.1L1407 299.4L1408 340L1408 705.8ZM1420.7 705.8L1420.7 340L1422 299.4L1423.2 284.5L1424.5 299.4L1425.7 319.3L1427 340L1427 705.8ZM1339.9 705.8L1339.9 223.1L1340.5 192.5L1341.3 155L1342.2 136.3L1342.8 126.9L1343.3 118.1L1343.9 118.1L1344.4 143.8L1345 177.5L1345.6 192.5L1345.6 223.1L1345.6 705.8ZM1391.9 705.8L1391.9 223.1L1392.4 196.3L1393 164.4L1393.6 143.4L1394.1 143.4L1394.7 164.4L1395.3 185L1396 196.3L1396 223.1L1396 705.8Z" fill="#e0871d"/>
<line x1="144.5" x2="144.5" y1="113" y2="706" stroke="#e4890c" stroke-width="1.5"/>
<line x1="1514.6" x2="1514.6" y1="113.5" y2="705.8" stroke="#1b1b1b" stroke-width="1.4"/>
<line x1="224.4" x2="224.4" y1="705.8" y2="720.3" stroke="#d2d2d2" stroke-width="1.2"/>
<text x="224.4" y="741.6" font-size="17.1" fill="#222836" text-anchor="middle">Oct '20</text>
<line x1="315.9" x2="315.9" y1="705.8" y2="720.3" stroke="#d2d2d2" stroke-width="1.2"/>
<text x="315.9" y="741.6" font-size="17.1" fill="#222836" text-anchor="middle">Feb '21</text>
<line x1="405" x2="405" y1="705.8" y2="720.3" stroke="#d2d2d2" stroke-width="1.2"/>
<text x="405" y="741.6" font-size="17.1" fill="#222836" text-anchor="middle">Jun '21</text>
<line x1="496" x2="496" y1="705.8" y2="720.3" stroke="#d2d2d2" stroke-width="1.2"/>
<text x="496" y="741.6" font-size="17.1" fill="#222836" text-anchor="middle">Oct '21</text>
<line x1="587" x2="587" y1="705.8" y2="720.3" stroke="#d2d2d2" stroke-width="1.2"/>
<text x="587" y="741.6" font-size="17.1" fill="#222836" text-anchor="middle">Feb '22</text>
<line x1="676" x2="676" y1="705.8" y2="720.3" stroke="#d2d2d2" stroke-width="1.2"/>
<text x="676" y="741.6" font-size="17.1" fill="#222836" text-anchor="middle">Jun '22</text>
<line x1="767" x2="767" y1="705.8" y2="720.3" stroke="#d2d2d2" stroke-width="1.2"/>
<text x="767" y="741.6" font-size="17.1" fill="#222836" text-anchor="middle">Oct '22</text>
<line x1="858" x2="858" y1="705.8" y2="720.3" stroke="#d2d2d2" stroke-width="1.2"/>
<text x="858" y="741.6" font-size="17.1" fill="#222836" text-anchor="middle">Feb '23</text>
<line x1="947" x2="947" y1="705.8" y2="720.3" stroke="#d2d2d2" stroke-width="1.2"/>
<text x="947" y="741.6" font-size="17.1" fill="#222836" text-anchor="middle">Jun '23</text>
<line x1="1037" x2="1037" y1="705.8" y2="720.3" stroke="#d2d2d2" stroke-width="1.2"/>
<text x="1037" y="741.6" font-size="17.1" fill="#222836" text-anchor="middle">Oct '23</text>
<line x1="1128" x2="1128" y1="705.8" y2="720.3" stroke="#d2d2d2" stroke-width="1.2"/>
<text x="1128" y="741.6" font-size="17.1" fill="#222836" text-anchor="middle">Feb '24</text>
<line x1="1218" x2="1218" y1="705.8" y2="720.3" stroke="#d2d2d2" stroke-width="1.2"/>
<text x="1218" y="741.6" font-size="17.1" fill="#222836" text-anchor="middle">Jun '24</text>
<line x1="1309" x2="1309" y1="705.8" y2="720.3" stroke="#d2d2d2" stroke-width="1.2"/>
<text x="1309" y="741.6" font-size="17.1" fill="#222836" text-anchor="middle">Oct '24</text>
<line x1="1400" x2="1400" y1="705.8" y2="720.3" stroke="#d2d2d2" stroke-width="1.2"/>
<text x="1400" y="741.6" font-size="17.1" fill="#222836" text-anchor="middle">Feb '25</text>
<line x1="1490" x2="1490" y1="705.8" y2="720.3" stroke="#d2d2d2" stroke-width="1.2"/>
<text x="1490" y="741.6" font-size="17.1" fill="#222836" text-anchor="middle">Jun '25</text>
<text x="123.5" y="710.3" font-size="15.5" fill="#222836" text-anchor="end">0</text>
<text x="123.5" y="658.8" font-size="15.5" fill="#222836" text-anchor="end">2B</text>
<text x="123.5" y="607.3" font-size="15.5" fill="#222836" text-anchor="end">4B</text>
<text x="123.5" y="555.8" font-size="15.5" fill="#222836" text-anchor="end">6B</text>
<text x="123.5" y="504.3" font-size="15.5" fill="#222836" text-anchor="end">8B</text>
<text x="123.5" y="452.8" font-size="15.5" fill="#222836" text-anchor="end">10B</text>
<text x="123.5" y="401.3" font-size="15.5" fill="#222836" text-anchor="end">12B</text>
<text x="123.5" y="349.8" font-size="15.5" fill="#222836" text-anchor="end">14B</text>
<text x="123.5" y="298.3" font-size="15.5" fill="#222836" text-anchor="end">16B</text>
<text x="123.5" y="246.8" font-size="15.5" fill="#222836" text-anchor="end">18B</text>
<text x="123.5" y="195.3" font-size="15.5" fill="#222836" text-anchor="end">20B</text>
<text x="123.5" y="143.8" font-size="15.5" fill="#222836" text-anchor="end">22B</text>
<text x="1534.5" y="710.6" font-size="15.5" fill="#222836">$0</text>
<text x="1534.5" y="661.3" font-size="15.5" fill="#222836">$10k</text>
<text x="1534.5" y="611.9" font-size="15.5" fill="#222836">$20k</text>
<text x="1534.5" y="562.6" font-size="15.5" fill="#222836">$30k</text>
<text x="1534.5" y="513.3" font-size="15.5" fill="#222836">$40k</text>
<text x="1534.5" y="463.9" font-size="15.5" fill="#222836">$50k</text>
<text x="1534.5" y="414.6" font-size="15.5" fill="#222836">$60k</text>
<text x="1534.5" y="365.3" font-size="15.5" fill="#222836">$70k</text>
<text x="1534.5" y="316" font-size="15.5" fill="#222836">$80k</text>
<text x="1534.5" y="266.6" font-size="15.5" fill="#222836">$90k</text>
<text x="1534.5" y="217.3" font-size="15.5" fill="#222836">$100k</text>
<text x="1534.5" y="168" font-size="15.5" fill="#222836">$110k</text>
<text x="1534.5" y="118.6" font-size="15.5" fill="#222836">$120k</text>
<path d="M148.7 657.6L150 659.2L151.2 659.9L152.5 661.1L153.6 660.5L154.7 660.8L155.8 661.6L156.9 661L158 661.3L159.1 660.7L160.2 660.7L161.3 660.4L162.4 659.9L163.5 660.8L164.6 660.6L165.7 660.7L166.8 659.3L167.9 659.4L168.9 660L170 660.3L171.1 660.7L172.4 659L173.6 657.7L174.9 655.6L176.1 652.8L177.4 649.6L178.4 648.8L179.4 650.3L180.5 649.2L181.5 649.5L182.5 648L183.6 648.1L184.6 647.8L185.7 647.8L186.8 648.1L187.8 647.7L188.9 647L190 646.5L191 646.9L192.1 648.2L193.1 647.1L194.2 648.2L195.2 648.6L196.2 647.6L197.3 649L198.5 649.5L199.8 646.8L201 647.6L202.3 647.5L204.2 655.5L205.3 655.9L206.4 655.4L207.5 654.3L208.6 655.7L209.7 655.1L211 654.5L212.2 653.8L213.5 652L214.7 650.8L215.9 651.1L217.2 653.6L218.4 654.3L219.7 653.3L220.9 651.9L222.2 651.8L223.4 651.9L224.7 653.5L225.9 651.5L227.2 652.9L228.2 652.7L229.2 652.8L230.3 651.5L231.3 649.1L232.3 648L233.4 649.1L234.6 648L235.9 647.2L237.1 648.2L238.4 647.2L239.6 644.4L240.8 641.6L241.9 641.4L243 641.7L244 640.6L245.1 640L246.2 639.6L247.2 637.6L248.3 638.6L249.6 634.6L250.8 629.7L251.8 627.4L252.9 627.8L253.9 628.3L255 625.7L256 626.3L257 626.1L258.3 621.5L259.5 620.5L260.8 616L262 613.9L263.3 612.2L264.5 616.4L265.7 619.6L267 617L268.2 612.1L269.5 609L270.5 610.9L271.6 611L272.6 611.2L273.6 613.6L274.7 614.9L275.7 614.5L277 612.7L278.2 612.9L279.4 612.1L280.7 601.9L281.9 592.6L283.2 587L284.4 590.2L285.7 590.6L286.9 584.6L288.2 579.9L289.4 575.8L290.6 570L291.9 561.4L293.1 552.4L294.4 546.3L295.6 540.1L297.4 524.9L297.8 504.4L299.8 514.5L301.8 513L301.9 522.7L303.1 535.1L304.3 528.1L305.6 530.3L306.8 532.3L308.1 542L309.3 552.4L310.6 553.9L311.8 553.5L313.1 547.2L314.3 540.5L315.8 532.2L317.3 529.6L318.7 517.4L320.2 504.4L322.2 479.5L324.2 469.3L326.2 466L327.6 449.6L329.1 434.4L330.9 423.2L332.1 449.7L334.1 469.2L335.9 481.9L337.1 464.4L339.1 457L340.8 453.4L342.6 434.4L344.6 412.6L345.8 402.9L347.1 429.6L348.6 416.3L349.7 418.4L350.8 419L352.5 436.4L354.5 450.6L356.5 429.5L358.5 417.4L359.6 416.9L360.8 412.2L362.5 420.1L364 427.7L365.7 415L367.5 406.5L369.2 391.8L371 405.2L372.7 427L374.5 434.7L376.5 454.8L377.9 464.5L379.4 439.5L381.4 421.6L383.2 430L384.4 441.9L385.7 425.8L387.4 415.4L388.9 426.3L390.1 444.4L391.4 459.5L393.1 477.2L394.9 496.9L396.4 512L397.7 520.4L399 532L400.2 530.6L401.5 526.4L402.7 524.6L403.9 527.7L405.2 534.1L406.4 536.1L407.7 538.4L408.9 537.4L410.2 539.9L411.4 534.5L412.7 532.5L413.9 528L415.1 525.2L416.4 525.5L417.6 537.2L418.9 547.3L420 534.3L421.2 549.1L423 537.4L425 529.8L427 531.3L428.7 538.8L430.5 535.4L432.5 539.6L434.4 537.8L436.2 544.1L437.4 548.3L438.7 549.8L439.9 553.5L441.2 558.9L442.9 544.9L444.9 532.5L446 522.5L447.2 509.2L449.2 498.5L451.2 516.6L452.9 498.7L454.6 484.7L456.6 477L458.6 486.6L459.9 470.7L461.6 482.2L463.4 472L465.3 462.5L467.1 469.4L469.1 463.6L471.1 473.7L472.8 465.1L474.6 465.4L476.6 446.1L478 468.7L479.8 481.5L481.5 482.4L483.5 469.9L485.3 467.7L487 489.4L488.5 505.5L490.2 486.9L492 494.1L493.5 501.9L495.2 480.1L497 464.5L499 439.8L500.5 432.5L501.5 437L503.4 422.8L505.2 411.9L506.9 402.7L508.4 389L509.9 379.5L511.4 397.7L513.2 396.4L514.7 415.9L516.4 402.6L518.4 403.5L520 399.2L522 402.8L523.7 372.1L525.5 387.7L527.5 383.3L529.5 406.8L531.2 424.3L532.9 411.5L534.4 425.9L535.7 414.2L536.9 439.8L538.7 419.9L540.4 424.8L541.9 444.3L543.7 462.5L545.4 457.3L546.9 469.4L548.6 458.6L550.4 475.4L551.6 476.7L552.9 476.8L554.9 474.8L556.9 457.3L558.6 454.8L560.3 462.1L561.8 477.5L563.6 471L565.3 477.1L567.3 491.1L569.1 500.9L571 492.4L572.8 489.3L574.8 495.5L576.8 500.1L578 513.7L579.4 532.6L581.4 525.8L582.3 520.2L583.5 519.4L584.7 517.4L586 515.4L587.2 514.5L588.1 524L589.2 499L591 490.6L592.7 487L594.7 495.9L596.2 489.4L597.7 485.6L599.2 501.5L600.9 511.7L602.3 524L602.7 523.1L604.7 519L605.5 521L606.2 502.8L607.6 487.3L609.1 492.1L610.9 510.9L612.6 499.6L614.1 518.2L615.9 514.9L617.6 504.5L619.6 499.3L621.6 502L623.3 493.7L625.1 487.3L627.1 474.6L628.8 470.5L630.3 479.9L632.1 476.4L634 478.9L635 489.2L637 497L639 510.6L640.8 504.2L642.5 506.5L644.5 502.6L646.5 509.7L648.2 506.4L650 516.3L652 514.9L654 518.4L655.7 511.2L656.6 524L657 524L657.8 535L659 549.2L660.3 563.4L662 556.1L664 561.2L666 557.1L667.8 562.3L669.8 560L670.9 562.7L672 565L674 557.4L675.2 549.8L677 558.8L679 551.1L681 557.1L682.7 562.1L683.9 574.8L685.2 594.7L686.9 602.2L688.4 612.1L690.2 604.7L691.4 602.7L692.7 600.6L693.9 603.2L695.1 604.9L696.4 607.5L697.6 609.6L699.4 611L700 608.2L702 601.7L703.7 598.5L705.5 604.4L707 611.1L708.7 601.9L710.5 592.8L712.5 590.7L714.4 595.1L716.2 600.8L717.9 589.4L719.9 588.3L721.9 592.3L723.7 593.6L724.9 592.4L726.1 591.4L727.4 589.7L728.6 587.2L730.4 585.4L732.4 588.9L734.4 597.4L736.1 602.4L737.4 600L738.6 599.6L740.3 606.1L742.3 607.1L743.6 607.4L744.8 606.1L746.8 609.9L748.6 612.1L750.5 600.3L752.3 596.3L753.8 604.6L754.9 606.6L756 609L757.3 610.6L758.5 613.6L759.8 613.6L761 612.1L762.3 610.6L763.5 610.9L764.7 610.6L766 609.9L767.2 608.4L768.5 605.9L769.7 607.9L771 608.5L772.2 609.8L773.5 610.9L774.7 610.3L775.9 610.3L777.2 609.6L778.4 610.7L779.7 610.3L780.9 609.3L782.2 608.7L783.4 607.9L784.7 605.3L785.9 603.6L787.2 604.5L788.4 604.6L789.6 603.8L790.9 603.1L792.6 601.4L794.1 606L795.1 619.9L795.9 626.9L797.6 622.5L799.6 622.9L800.8 623.9L802.1 623.6L804.1 627.1L805.8 623.3L807.1 624.4L808.3 624.2L809.6 621.7L810.8 621.3L812.1 621.3L813.3 621.8L814.5 621.5L815.8 620.9L817 621.7L818.3 621.8L819.5 621.2L820.8 618.6L822 619.8L823.3 623.2L824.5 621.9L825.7 621.8L827 622.3L828.2 622.6L829.5 623L830.7 622.2L832 622.4L833.2 624.1L834.5 623.6L835.7 623.3L837 622.9L838.2 622.4L839.4 622.3L840.7 620.9L842.4 618.3L843.7 609.5L844.9 602.1L846.9 600.2L848.7 594.4L850.6 592.7L852.4 593.1L854.4 591L856.4 588.5L858.1 591.8L859.9 589.7L861.9 592.1L863.8 597.3L865.6 599.3L867.3 595.9L868.8 587L870.6 584.7L871.8 584.2L873.8 588.7L875.5 591L877.3 589.5L879.3 591.9L881.3 593.4L883 599.5L884.8 605.6L886.3 594.7L888 585.9L889.2 582.3L890.5 572.4L892.2 567.2L894.2 569.2L895.5 566L896.7 571.4L898.5 566.1L900.4 565.1L902.2 567.9L904.2 565.8L906.2 566.1L907.9 560L909.7 557.6L911.7 556.2L913.6 557.7L915.4 566.3L917.1 571.3L919.1 568.7L921.1 559.8L922.9 563.7L924.6 565.8L926.6 561.4L928.6 567L930.3 571.1L932.1 574.1L934.1 572.2L935.3 572.6L936.6 573.1L937.8 572.3L939 571.6L941 575.4L942.8 571.2L944.5 567.5L946.5 570.8L948.5 572.8L950.2 579L952 573.5L954 578.6L956 581.6L957.7 580.2L959.5 574.6L961 562.5L962.7 556L964.4 554.7L966.4 557.1L968.4 554L969.7 552.7L970.9 551.7L972.7 557.6L973.9 556.7L975.1 556.2L976.9 554.1L978.4 550.7L980.1 555.9L981.4 559L982.6 557.4L983.9 558.8L985.1 558.4L986.4 559.8L987.6 560.6L988.8 562.9L990.1 561.5L991.3 559.5L992.6 559.9L993.8 559.5L995.1 562.2L996.3 560.4L997.6 559.8L998.8 559.5L1000 559.8L1000 560L1001.3 560.7L1002.5 560.7L1003.7 572.3L1005 577.4L1006.2 577.5L1007.5 576.7L1008.7 575.5L1010 576.1L1012 568.4L1013.7 577.7L1014.9 578.6L1016.2 578.5L1017.4 578.5L1018.7 579.1L1019.9 577.6L1021.2 577.7L1022.9 581.8L1024.9 576.2L1026.9 573.7L1028.1 574.7L1029.4 571.6L1031.1 574.8L1032.4 578L1033.6 575.5L1035.4 572.1L1037.4 567.4L1039.3 571.1L1041.1 567.4L1042.8 568.5L1044.8 572.9L1046.8 573.6L1048.6 566.3L1050.5 564.3L1052.3 557.1L1053.5 544.9L1054.8 535.9L1056.8 537.1L1058.5 535.1L1060.3 531L1062.3 533.9L1064.2 531.4L1066 525.1L1067.7 530.1L1067.7 520.5L1069.2 522L1069.7 522.2L1071 518.9L1072.7 521.6L1074.7 520.5L1075.9 521L1077.2 519.5L1078.4 520.2L1079.7 519.9L1081.7 517.8L1083.4 509.4L1084.7 499.3L1085.9 488.7L1087.6 487L1089.1 494.7L1090.9 501.6L1092.6 496.8L1094.1 499.3L1095.9 491.2L1097.6 488.7L1099.6 491L1101.6 493.7L1103.3 498.4L1105.1 494.3L1107.1 484.6L1108.6 492L1110.1 481.4L1111.6 474.4L1112.8 480L1114 489.2L1115.8 499L1117.5 496.4L1119 501.4L1120.8 504.4L1122 511.1L1123.8 507L1125.2 496.9L1127 493.9L1129 494.2L1130.7 491.6L1132.5 494.6L1134 484.6L1135.2 474.1L1136.5 464L1137.7 454.6L1138.9 449.6L1140.7 447.8L1142.4 449.5L1143.9 448.1L1145.7 456L1146.9 447L1148.2 429.6L1148.9 409.5L1149.9 397.7L1151.4 395.4L1152.4 367.2L1153.9 379L1155.1 369.5L1156.4 362.4L1157.6 352.8L1159.4 345.7L1160.6 359.7L1161.9 384.8L1163.1 391.1L1163.8 399.6L1164.8 372.4L1166.1 390.7L1167.3 377.5L1168.8 359.3L1170.6 355.2L1172.3 353.7L1173.6 365L1174.8 382.1L1176.3 367.8L1177.5 357.3L1178.8 351.6L1180.3 360.1L1181.8 374.1L1183.3 387L1184.5 393.5L1185.5 403.9L1186.8 394.7L1188.2 382.5L1189.7 375.8L1191.2 387.4L1193 391.8L1194.2 404.4L1195.7 418.2L1197.2 392L1198.7 389.8L1200.4 396.1L1202.2 402.7L1203.7 405.4L1204.9 393.8L1206.2 380.1L1207.9 375.2L1209.2 360.2L1210.4 355L1211.7 367.5L1213.4 365L1214.9 370.3L1216.6 372.5L1218.6 373.2L1220.4 364.3L1221.6 354.7L1223.4 358.2L1225.3 365.3L1227.1 373.4L1228.6 380.3L1230.3 379.6L1232.1 386L1234.1 389.7L1235.3 399.5L1236.6 408.1L1238.3 406.9L1239.8 397.5L1241 396L1242 409.7L1243.5 422.1L1245.3 430L1246.5 421.1L1248.3 422.1L1249.8 407.5L1251 388.5L1252.7 384.3L1254.5 378L1256 370.1L1257.2 378.1L1258.5 382.8L1259.7 372.5L1261 367.9L1262.2 379.3L1263.4 382.5L1264.7 397.7L1265.9 417.3L1267.2 438.3L1268.4 421.5L1269.7 402.7L1270.9 411L1272.2 407.1L1273.4 416.1L1274.7 420.9L1275.9 415L1277.6 414.5L1278.9 407.2L1280.1 390L1281.9 388.3L1283.1 405L1284.6 414L1286.4 414.5L1288.1 417.1L1289.3 430.3L1290 439.4L1291.2 429.9L1292.5 424.1L1293.7 414.7L1295 409L1296.2 406.9L1297.5 417.3L1299 412.2L1300.5 394.8L1302.5 392.8L1303.7 389.7L1305.4 384.5L1306.9 380.8L1307.9 388.8L1309.4 401.8L1310.9 406.2L1312.4 400L1313.7 404.6L1314.9 408.7L1316.4 396.5L1317.9 387.6L1319.4 374.1L1321.1 372L1322.9 365.9L1324.4 372.2L1326.1 375.3L1327.8 376.1L1329.3 359.7L1330.8 347.7L1332.3 360.7L1333.8 371.1L1335.3 350.1L1336.1 329.9L1337.8 324.4L1338.8 298.7L1339.8 275.9L1341 260.9L1342.8 255.9L1344.3 260.8L1345.5 249.9L1346.8 225.3L1348 217.7L1349.3 232L1350.3 249L1351.5 232.2L1352.7 225.4L1354.2 231.5L1355.7 226.5L1357.2 217.2L1358.7 208.5L1360.2 205.9L1361.5 224.4L1362.7 206.3L1364 194.4L1365.2 184.3L1366.4 182.1L1367.4 207.2L1368.7 221.8L1370.2 237.2L1371.7 215.2L1372.9 235.4L1374.2 240.7L1375.4 236.7L1376.7 248.1L1377.9 230.6L1379.1 223.4L1380.4 209.3L1381.4 201L1382.6 232.5L1383.9 248.8L1385.1 234.9L1386.6 222.2L1387.9 208.6L1389.1 195L1390.3 191.9L1391.3 201.1L1392.3 182.4L1393.6 190L1394.8 195.1L1396.1 190.1L1397.1 204.4L1398.3 194.7L1399.6 187.9L1400.8 204.5L1402.1 215.2L1403.3 224.2L1405 229.6L1406.5 228.3L1408 232.4L1409.5 223.4L1411 229L1412.5 231.7L1414 221.1L1415.2 232.8L1416.5 229.9L1417.5 249.9L1418.5 274.5L1419.5 291.5L1420.7 284.2L1422 239.3L1423 275L1424 279.5L1425 258.2L1426 279.2L1427 299.3L1428.2 318.4L1429.4 297.1L1430.7 292.5L1431.9 289.7L1433.2 297L1434.4 276.4L1435.7 292.4L1436.9 284.3L1438.2 274.3L1439.4 273.7L1440.6 277.8L1441.9 291.5L1443.1 299.6L1444.4 285.2L1445.6 298.2L1446.9 291.7L1448.1 320L1449.4 328.9L1450.6 312.3L1451.9 298.2L1453.1 284.3L1454.3 292.9L1456.3 289.7L1458.1 285.7L1459.3 274.1L1460.1 245.9L1461.3 239.7L1463.1 237.4L1464.3 241.4L1465.5 234.8L1466.8 230.4L1468 226.8L1469.3 238.5L1470.5 225.5L1471.3 207.3L1472.3 193.9L1473.5 187.5L1474.8 198.1L1476.3 192.8L1477.5 195.5L1478.7 187.9L1479.7 180.2L1480.7 182.8L1481.7 163.4L1482.5 153.5L1483.5 176.8L1484.7 165.4L1486 174.3L1487.2 180.7L1488.5 192.4L1489.7 182.7L1491.2 189.1L1492.4 202.9L1493.7 187.1L1494.9 174.9L1495.9 161.8L1497.2 177.1L1498.4 185.6L1499.7 181.8L1500.9 178.8L1502.2 187L1503.4 189.9L1504.6 188.1L1505.6 206.2L1506.6 188.1L1507.9 176.4" fill="none" stroke="#000" stroke-width="3" stroke-linejoin="round" stroke-linecap="round"/>
<path d="M1111.6 442.6L1200.4 602.2M1181.8 596.7L1200.4 602.2L1204.7 584.2" fill="none" stroke="#000" stroke-width="3.6" stroke-linecap="round" stroke-linejoin="round"/>
<path d="M1301.2 216L1412 530M1395.8 522.5L1412 530L1420.7 513" fill="none" stroke="#000" stroke-width="3.6" stroke-linecap="round" stroke-linejoin="round"/>
<path d="M1421.5 536.2L1513.4 550.6M1501.2 536.2L1513.4 550.6L1497.2 561.1" fill="none" stroke="#000" stroke-width="3.6" stroke-linecap="round" stroke-linejoin="round"/>
<circle cx="21.4" cy="34" r="4.2" fill="#e0871d"/>
<text x="30.2" y="38.4" font-size="12.8" textLength="237.4" fill="#222836">BTC: Spot Volume - All Exchanges [USD]</text>
<circle cx="300.3" cy="34" r="4.2" fill="#000"/>
<text x="309.7" y="38.4" font-size="12.8" textLength="98.6" fill="#222836">BTC: Price [USD]</text>
</svg>
</body></html>
